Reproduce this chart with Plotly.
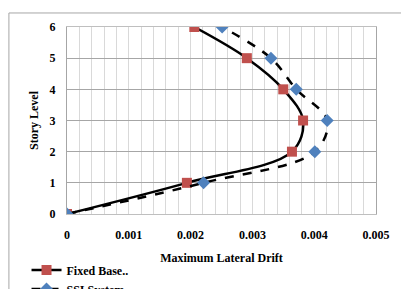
import plotly.graph_objects as go

levels = [0, 1, 2, 3, 4, 5, 6]
fixed_base = [0.0, 0.00194, 0.00364, 0.00382, 0.00350, 0.00291, 0.00206]
ssi_system = [0.0, 0.00221, 0.00401, 0.00421, 0.00371, 0.00330, 0.00251]
x_ticks = [0, 0.001, 0.002, 0.003, 0.004, 0.005]
x_tick_text = ["0", "0.001", "0.002", "0.003", "0.004", "0.005"]

font_family = "Liberation Serif"

fig = go.Figure()
fig.add_trace(go.Scatter(
    x=fixed_base, y=levels, name="Fixed Base..",
    mode="lines+markers",
    line=dict(color="black", width=2.5, shape="spline", smoothing=1),
    marker=dict(symbol="square", size=10, color="#C0504D"),
))
fig.add_trace(go.Scatter(
    x=ssi_system, y=levels, name="SSI System",
    mode="lines+markers",
    line=dict(color="black", width=2.5, dash="dash", shape="spline", smoothing=1),
    marker=dict(symbol="diamond", size=10, color="#4F81BD"),
))

fig.update_layout(
    width=401, height=289,
    margin=dict(l=67, r=25, t=27, b=75, autoexpand=False),
    paper_bgcolor="white", plot_bgcolor="white",
    font=dict(family=font_family, size=12, color="black"),
    showlegend=True,
    legend=dict(x=-0.131, y=-0.222, xanchor="left", yanchor="top",
                font=dict(family=font_family, size=12, color="black", weight="bold"),
                tracegroupgap=0, itemwidth=30, bgcolor="rgba(0,0,0,0)"),
    shapes=[dict(type="rect", xref="paper", yref="paper",
                 x0=-0.188, x1=1.5, y0=-1, y1=1.075,
                 line=dict(color="#a6a6a6", width=1), layer="below")],
)
fig.update_xaxes(
    range=[0, 0.005], tickvals=x_ticks, ticktext=x_tick_text,
    tickfont=dict(family=font_family, size=12, weight="bold"),
    showgrid=True, gridcolor="#d9d9d9", gridwidth=1,
    minor=dict(dtick=0.0002, showgrid=True, gridcolor="#d9d9d9", gridwidth=1),
    showline=True, linecolor="#bfbfbf", mirror=True, zeroline=False,
    ticks="", ticklabelstandoff=10,
    title=dict(text="Maximum Lateral Drift", font=dict(family=font_family, size=12, weight="bold"), standoff=12),
)
fig.update_yaxes(
    range=[0, 6], dtick=1,
    tickfont=dict(family=font_family, size=12, weight="bold"),
    showgrid=True, gridcolor="#a6a6a6", gridwidth=1,
    showline=True, linecolor="#a6a6a6", mirror=True, zeroline=False,
    ticks="", ticklabelstandoff=8,
    title=dict(text="Story Level", font=dict(family=font_family, size=12, weight="bold"), standoff=8),
)

fig.write_html("out.html", config={"displayModeBar": False},
               post_script="document.body.style.margin='0';document.body.style.overflow='hidden';")
